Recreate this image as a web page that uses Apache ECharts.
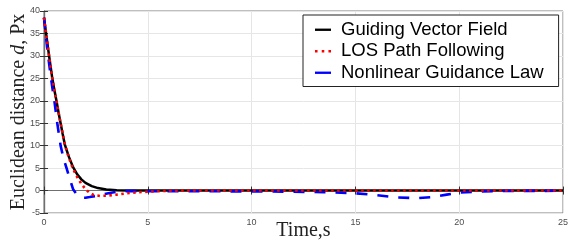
<!DOCTYPE html>
<html>
<head>
<meta charset="utf-8">
<script src="https://cdn.jsdelivr.net/npm/echarts@6/dist/echarts.min.js"></script>
<style>
  html, body { margin: 0; padding: 0; background: #fff; }
  #chart { width: 568px; height: 240px; }
</style>
</head>
<body>
<div id="chart"></div>
<script>
// values
const gvfTime = [0, 0.1, 0.2, 0.3, 0.4, 0.5, 0.6, 0.7, 0.8, 0.9, 1.0, 1.2, 1.4, 1.6, 1.8, 2.0, 2.3, 2.6, 3.0, 3.5, 4.0, 5.0, 25];
const gvfDist = [38.5, 35, 31.5, 28.2, 25, 22.4, 20, 17.4, 15, 12.6, 10.3, 7.5, 5.2, 3.6, 2.5, 1.7, 1.0, 0.55, 0.25, 0.08, 0.02, 0, 0];

const losTime = [0, 0.1, 0.2, 0.3, 0.4, 0.5, 0.6, 0.7, 0.8, 0.9, 1.0, 1.2, 1.4, 1.6, 1.8, 2.0, 2.2, 2.4, 2.7, 3.0, 3.5, 4.0, 4.5, 5.0, 6.0, 7.0, 25];
const losDist = [38.5, 35, 31.5, 28.2, 25, 22.4, 20, 17.4, 15, 12.6, 10.3, 7.3, 4.8, 3.0, 1.5, 0.3, -0.5, -1.0, -1.2, -1.15, -0.9, -0.6, -0.4, -0.25, -0.05, 0, 0];

const nglTime = [0, 0.1, 0.2, 0.3, 0.4, 0.5, 0.64, 0.8, 0.95, 1.1, 1.25, 1.4, 1.55, 1.7, 1.85, 2.0, 2.2, 2.5, 2.8, 3.1, 3.5, 4.0, 5.0, 8.0, 10.0, 12.0, 13.5, 15.0, 16.0, 17.0, 18.0, 18.7, 19.4, 20.0, 21.0, 22.0, 25.0];
const nglDist = [38.5, 34, 30, 26.3, 23, 20, 15, 10, 7, 4.8, 2.5, 0.3, -0.7, -1.3, -1.6, -1.6, -1.45, -1.2, -0.9, -0.6, -0.3, -0.1, -0.15, -0.15, -0.2, -0.25, -0.35, -0.6, -1.0, -1.55, -1.7, -1.45, -0.9, -0.45, -0.2, -0.1, -0.05];

const seriesNames = ['Guiding Vector Field', 'LOS Path Following', 'Nonlinear Guidance Law'];
const seriesColors = ['#000000', '#ff0000', '#0000ff'];
const xTicks = [0, 5, 10, 15, 20, 25];
const yTicks = [-5, 0, 5, 10, 15, 20, 25, 30, 35, 40];

function pairs(t, v) {
  return t.map((x, i) => [x, v[i]]);
}

const serif = 'Liberation Serif, DejaVu Serif, serif';
const tickLabel = { color: '#4d4d4d', fontSize: 9, fontFamily: 'Liberation Sans, Arial, sans-serif' };
const barIcon = 'path://M0,0 L15,0 L15,2.2 L0,2.2 Z';
const dotIcon = 'path://M0,0 h2.4 v2.4 h-2.4 Z M6.3,0 h2.4 v2.4 h-2.4 Z M12.6,0 h2.4 v2.4 h-2.4 Z';

const option = {
  animation: false,
  backgroundColor: '#fff',
  grid: {
    left: 44, right: 5, top: 11, bottom: 27,
    outerBoundsMode: 'none',
    containLabel: false,
    show: true,
    borderColor: '#7f7f7f',
    borderWidth: 1
  },
  legend: {
    orient: 'vertical',
    left: 303,
    top: 15,
    padding: [4, 15, 3, 12],
    backgroundColor: '#fff',
    borderColor: '#222',
    borderWidth: 1,
    borderRadius: 0,
    itemWidth: 16,
    itemHeight: 14,
    itemGap: 0,
    data: [
      { name: seriesNames[0], icon: barIcon, itemStyle: { color: seriesColors[0] } },
      { name: seriesNames[1], icon: dotIcon, itemStyle: { color: seriesColors[1] } },
      { name: seriesNames[2], icon: barIcon, itemStyle: { color: seriesColors[2] } }
    ],
    textStyle: { fontSize: 18.5, lineHeight: 21.5, color: '#000', fontFamily: 'Liberation Sans, Arial, sans-serif', padding: [0, 0, 0, 5] }
  },
  xAxis: [{
    type: 'value',
    min: 0, max: 25, interval: 5,
    name: 'Time,s',
    nameLocation: 'middle',
    nameGap: 8,
    nameMoveOverlap: false,
    nameTextStyle: { fontFamily: serif, fontSize: 20, color: '#222' },
    axisLine: { show: true, lineStyle: { color: '#6f6f6f', width: 1.2 } },
    axisTick: { show: true, inside: true, length: 4, lineStyle: { color: '#333' } },
    axisLabel: Object.assign({ margin: 5, formatter: v => xTicks.includes(v) ? String(v) : '' }, tickLabel),
    splitLine: { show: true, lineStyle: { color: '#e6e6e6', width: 1 } }
  }, {
    type: 'value',
    position: 'top',
    min: 0, max: 25, interval: 5,
    axisLine: { show: true, lineStyle: { color: '#6f6f6f', width: 1.2 } },
    axisTick: { show: true, inside: true, length: 4, lineStyle: { color: '#333' } },
    axisLabel: { show: false },
    splitLine: { show: false }
  }],
  yAxis: [{
    type: 'value',
    min: -5, max: 40, interval: 5,
    name: '{a|Euclidean distance }{i|d}{a|, Px}',
    nameLocation: 'middle',
    nameGap: 15,
    nameMoveOverlap: false,
    nameRotate: 90,
    nameTextStyle: {
      rich: {
        a: { fontFamily: serif, fontSize: 20, color: '#222' },
        i: { fontFamily: serif, fontSize: 20, fontStyle: 'italic', color: '#222' }
      }
    },
    axisLine: { show: true, lineStyle: { color: '#6f6f6f', width: 1.2 } },
    axisTick: { show: true, inside: true, length: 4, lineStyle: { color: '#333' } },
    axisLabel: Object.assign({ margin: 4, formatter: v => yTicks.includes(v) ? String(v) : '' }, tickLabel),
    splitLine: { show: true, lineStyle: { color: '#e6e6e6', width: 1 } }
  }, {
    type: 'value',
    position: 'right',
    min: -5, max: 40, interval: 5,
    axisLine: { show: true, lineStyle: { color: '#6f6f6f', width: 1.2 } },
    axisTick: { show: true, inside: true, length: 4, lineStyle: { color: '#333' } },
    axisLabel: { show: false },
    splitLine: { show: false }
  }],
  series: [
    {
      name: seriesNames[0], type: 'line', showSymbol: false, symbol: 'none', z: 2,
      data: pairs(gvfTime, gvfDist),
      lineStyle: { color: seriesColors[0], width: 2.5 },
      itemStyle: { color: seriesColors[0] }
    },
    {
      name: seriesNames[1], type: 'line', showSymbol: false, symbol: 'none', z: 4,
      data: pairs(losTime, losDist),
      lineStyle: { color: seriesColors[1], width: 2.6, type: [2.5, 3.5], cap: 'butt' },
      itemStyle: { color: seriesColors[1] }
    },
    {
      name: seriesNames[2], type: 'line', showSymbol: false, symbol: 'none', z: 3,
      data: pairs(nglTime, nglDist),
      lineStyle: { color: seriesColors[2], width: 2.6, type: [11, 10] },
      itemStyle: { color: seriesColors[2] }
    }
  ]
};

const myChart = echarts.init(document.getElementById('chart'), null, { renderer: 'canvas' });
myChart.setOption(option);
</script>
</body>
</html>
